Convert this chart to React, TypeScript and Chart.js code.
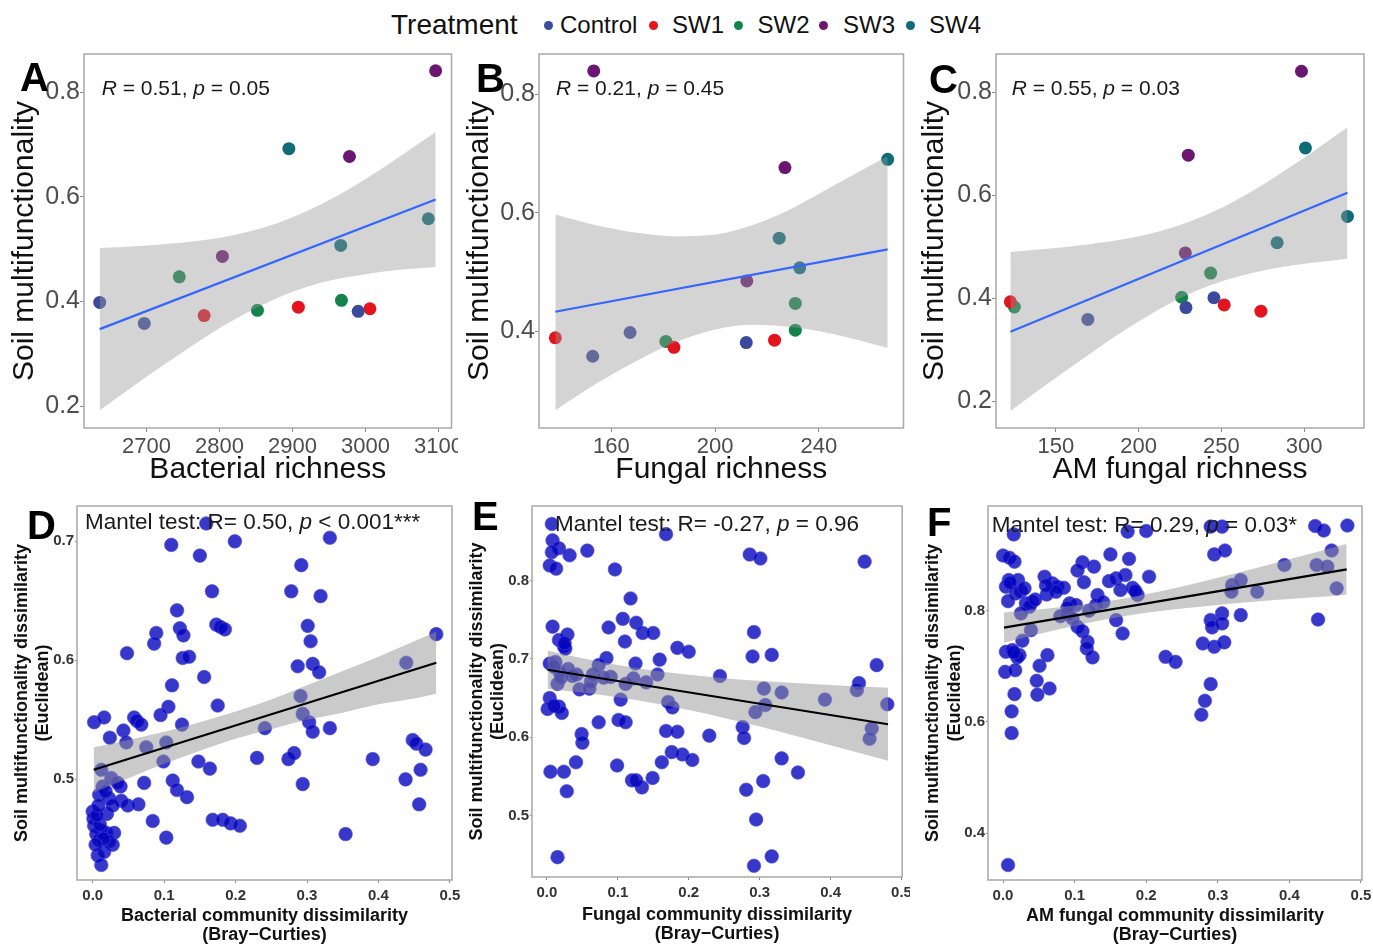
import React, { useEffect, useRef } from "react";
import { Chart, registerables } from "chart.js";

Chart.register(...registerables);

const FONT = "'Liberation Sans', Arial, Helvetica, sans-serif";

// ---------- legend ----------
const treatments = ["Control", "SW1", "SW2", "SW3", "SW4"];
const treatmentColors = ["#3B4A9C", "#E3141E", "#13834A", "#6B1772", "#0D6C77"];

// ---------- panel A : bacterial richness ----------
const aTreatment = ["Control", "Control", "SW2", "SW1", "SW3", "SW2", "SW4", "SW1", "SW2", "SW4", "SW3", "Control", "SW1", "SW4", "SW3"];
const aRichness = [2636, 2697, 2745, 2779, 2804, 2852, 2895, 2908, 2967, 2966, 2978, 2990, 3006, 3086, 3096];
const aMultifunc = [0.398, 0.358, 0.447, 0.373, 0.486, 0.383, 0.692, 0.389, 0.402, 0.507, 0.677, 0.381, 0.386, 0.558, 0.841];
const aFitX = [2636, 3096];
const aFitY = [0.347, 0.595];
const aBandX = [2636, 2700, 2760, 2820, 2880, 2940, 3000, 3050, 3096];
const aBandHi = [0.502, 0.507, 0.514, 0.527, 0.55, 0.586, 0.634, 0.68, 0.724];
const aBandLo = [0.192, 0.256, 0.313, 0.365, 0.407, 0.436, 0.452, 0.461, 0.466];
const aXTicks = [2700, 2800, 2900, 3000, 3100];
const aXLabels = ["2700", "2800", "2900", "3000", "3100"];
const aYTicks = [0.2, 0.4, 0.6, 0.8];
const aYLabels = ["0.2", "0.4", "0.6", "0.8"];

// ---------- panel B : fungal richness ----------
const bTreatment = ["SW1", "SW3", "Control", "Control", "SW2", "SW1", "Control", "SW3", "SW1", "SW4", "SW3", "SW2", "SW2", "SW4", "SW4"];
const bRichness = [138.4, 153.2, 152.8, 167.2, 181, 184.1, 212, 212.2, 222.9, 224.7, 226.9, 230.9, 230.9, 232.6, 266.5];
const bMultifunc = [0.389, 0.839, 0.358, 0.398, 0.383, 0.373, 0.381, 0.485, 0.385, 0.557, 0.676, 0.447, 0.402, 0.507, 0.69];
const bFitX = [138.4, 266.5];
const bFitY = [0.433, 0.538];
const bBandX = [138.4, 155, 170, 185, 200, 215, 230, 245, 266.5];
const bBandHi = [0.597, 0.578, 0.566, 0.56, 0.563, 0.58, 0.608, 0.644, 0.695];
const bBandLo = [0.267, 0.314, 0.351, 0.382, 0.403, 0.411, 0.407, 0.396, 0.372];
const bXTicks = [160, 200, 240];
const bXLabels = ["160", "200", "240"];
const bYTicks = [0.4, 0.6, 0.8];
const bYLabels = ["0.4", "0.6", "0.8"];

// ---------- panel C : AM fungal richness ----------
const cTreatment = ["SW1", "SW2", "Control", "SW2", "Control", "SW3", "SW3", "SW2", "Control", "SW1", "SW1", "SW4", "SW3", "SW4", "SW4"];
const cRichness = [122.5, 124.9, 169.3, 226, 228.6, 228.2, 230, 243.5, 245.5, 251.7, 273.9, 283.7, 298.4, 300.8, 326.2];
const cMultifunc = [0.393, 0.383, 0.359, 0.402, 0.382, 0.488, 0.678, 0.449, 0.401, 0.387, 0.375, 0.508, 0.841, 0.692, 0.559];
const cFitX = [122.5, 326.2];
const cFitY = [0.335, 0.605];
const cBandX = [122.5, 145, 170, 195, 220, 245, 270, 300, 326.2];
const cBandHi = [0.49, 0.496, 0.505, 0.517, 0.537, 0.568, 0.611, 0.673, 0.732];
const cBandLo = [0.181, 0.234, 0.291, 0.345, 0.392, 0.427, 0.45, 0.467, 0.477];
const cXTicks = [150, 200, 250, 300];
const cXLabels = ["150", "200", "250", "300"];
const cYTicks = [0.2, 0.4, 0.6, 0.8];
const cYLabels = ["0.2", "0.4", "0.6", "0.8"];

const upperR = ["0.51", "0.21", "0.55"];
const upperP = ["0.05", "0.45", "0.03"];

// ---------- panel D : bacterial dissimilarity ----------
const dPoints = [
  [0.159, 0.715], [0.11, 0.697], [0.15, 0.688], [0.199, 0.7], [0.167, 0.658], [0.118, 0.642], [0.122, 0.627], [0.127, 0.621],
  [0.089, 0.623], [0.086, 0.614], [0.173, 0.63], [0.179, 0.628], [0.185, 0.626], [0.048, 0.606], [0.126, 0.602], [0.135, 0.603],
  [0.156, 0.586], [0.111, 0.579], [0.106, 0.561], [0.175, 0.562], [0.002, 0.548], [0.016, 0.552], [0.058, 0.552], [0.062, 0.549],
  [0.068, 0.546], [0.095, 0.554], [0.125, 0.546], [0.024, 0.535], [0.043, 0.541], [0.047, 0.531], [0.075, 0.527], [0.103, 0.531],
  [0.099, 0.515], [0.148, 0.515], [0.164, 0.509], [0.23, 0.518], [0.241, 0.543], [0.012, 0.508], [0.026, 0.501], [0.014, 0.494],
  [0.039, 0.494], [0.072, 0.497], [0.112, 0.499], [0.118, 0.491], [0.132, 0.485], [0.009, 0.487], [0.023, 0.484], [0.04, 0.482],
  [0.049, 0.478], [0.064, 0.479], [0.0, 0.473], [0.02, 0.471], [0.084, 0.465], [0.168, 0.466], [0.182, 0.466], [0.193, 0.463],
  [0.206, 0.461], [0.002, 0.461], [0.012, 0.457], [0.005, 0.454], [0.019, 0.455], [0.03, 0.455], [0.009, 0.449], [0.023, 0.448],
  [0.028, 0.445], [0.103, 0.451], [0.007, 0.436], [0.012, 0.428], [0.001, 0.467], [0.016, 0.439], [0.01, 0.462], [0.015, 0.45],
  [0.004, 0.445], [0.018, 0.49], [0.028, 0.478], [0.035, 0.497], [0.006, 0.47], [0.008, 0.478],
  [0.332, 0.703], [0.292, 0.68], [0.278, 0.658], [0.319, 0.654], [0.301, 0.629], [0.305, 0.616], [0.287, 0.595], [0.308, 0.597],
  [0.317, 0.59], [0.291, 0.57], [0.294, 0.555], [0.303, 0.548], [0.308, 0.54], [0.332, 0.543], [0.274, 0.517], [0.282, 0.522],
  [0.294, 0.496], [0.354, 0.454], [0.392, 0.517], [0.439, 0.598], [0.481, 0.622], [0.448, 0.533], [0.453, 0.53], [0.466, 0.525],
  [0.459, 0.508], [0.438, 0.5], [0.457, 0.479],
];
const dFitX = [0.0014, 0.481];
const dFitY = [0.508, 0.598];
const dBandX = [0.0014, 0.05, 0.1, 0.15, 0.2, 0.25, 0.3, 0.35, 0.4, 0.45, 0.481];
const dBandHi = [0.527, 0.533, 0.54, 0.548, 0.557, 0.567, 0.579, 0.591, 0.603, 0.616, 0.624];
const dBandLo = [0.489, 0.501, 0.513, 0.524, 0.534, 0.542, 0.55, 0.556, 0.563, 0.568, 0.572];
const dYTicks = [0.5, 0.6, 0.7];
const dYLabels = ["0.5", "0.6", "0.7"];

// ---------- panel E : fungal dissimilarity ----------
const ePoints = [
  [0.007, 0.872], [0.008, 0.851], [0.017, 0.841], [0.007, 0.836], [0.032, 0.832], [0.057, 0.838], [0.004, 0.819], [0.013, 0.815],
  [0.096, 0.814], [0.168, 0.859], [0.118, 0.777], [0.008, 0.741], [0.029, 0.731], [0.017, 0.724], [0.024, 0.716], [0.026, 0.713],
  [0.087, 0.74], [0.107, 0.751], [0.126, 0.746], [0.135, 0.733], [0.15, 0.733], [0.11, 0.722], [0.184, 0.714], [0.2, 0.709],
  [0.004, 0.694], [0.012, 0.696], [0.018, 0.683], [0.015, 0.668], [0.084, 0.701], [0.125, 0.694], [0.159, 0.699], [0.042, 0.68],
  [0.073, 0.692], [0.09, 0.677], [0.062, 0.671], [0.046, 0.661], [0.06, 0.662], [0.111, 0.668], [0.122, 0.675], [0.156, 0.68],
  [0.244, 0.678], [0.004, 0.65], [0.001, 0.636], [0.017, 0.639], [0.021, 0.631], [0.104, 0.648], [0.171, 0.645], [0.177, 0.638],
  [0.073, 0.619], [0.101, 0.622], [0.111, 0.619], [0.168, 0.608], [0.184, 0.607], [0.229, 0.602], [0.049, 0.604], [0.05, 0.593],
  [0.005, 0.556], [0.024, 0.556], [0.041, 0.568], [0.028, 0.531], [0.099, 0.564], [0.12, 0.545], [0.134, 0.536], [0.126, 0.545],
  [0.149, 0.548], [0.162, 0.568], [0.176, 0.581], [0.191, 0.578], [0.205, 0.571], [0.015, 0.447],
  [0.01, 0.69], [0.02, 0.676], [0.03, 0.687], [0.036, 0.678], [0.065, 0.68], [0.08, 0.676], [0.14, 0.67], [0.025, 0.72], [0.01, 0.64],
  [0.286, 0.833], [0.301, 0.828], [0.448, 0.824], [0.292, 0.734], [0.29, 0.703], [0.317, 0.705], [0.465, 0.692], [0.44, 0.669],
  [0.437, 0.66], [0.306, 0.662], [0.331, 0.657], [0.392, 0.648], [0.48, 0.642], [0.308, 0.641], [0.294, 0.632], [0.276, 0.613],
  [0.278, 0.599], [0.458, 0.611], [0.455, 0.598], [0.331, 0.573], [0.354, 0.555], [0.305, 0.544], [0.281, 0.533], [0.295, 0.495],
  [0.317, 0.448], [0.292, 0.436],
];
const eFitX = [0.001, 0.481];
const eFitY = [0.686, 0.6165];
const eBandX = [0.001, 0.05, 0.1, 0.15, 0.2, 0.25, 0.3, 0.35, 0.4, 0.45, 0.481];
const eBandHi = [0.7105, 0.7006, 0.6921, 0.685, 0.6796, 0.6753, 0.6719, 0.669, 0.6665, 0.6643, 0.663];
const eBandLo = [0.6615, 0.657, 0.6511, 0.6436, 0.6346, 0.6245, 0.6135, 0.6018, 0.5899, 0.5777, 0.57];
const eYTicks = [0.5, 0.6, 0.7, 0.8];
const eYLabels = ["0.5", "0.6", "0.7", "0.8"];

// ---------- panel F : AM fungal dissimilarity ----------
const fPoints = [
  [0.015, 0.937], [0.0, 0.899], [0.009, 0.895], [0.016, 0.888], [0.008, 0.855], [0.021, 0.855], [0.004, 0.843], [0.025, 0.835],
  [0.018, 0.831], [0.007, 0.817], [0.032, 0.813], [0.041, 0.816], [0.037, 0.807], [0.025, 0.795], [0.039, 0.765], [0.027, 0.746],
  [0.058, 0.861], [0.069, 0.849], [0.076, 0.843], [0.085, 0.841], [0.061, 0.829], [0.074, 0.834], [0.111, 0.887], [0.104, 0.872],
  [0.127, 0.879], [0.113, 0.851], [0.15, 0.901], [0.176, 0.893], [0.171, 0.864], [0.148, 0.853], [0.158, 0.858], [0.164, 0.837],
  [0.181, 0.841], [0.188, 0.828], [0.204, 0.861], [0.174, 0.942], [0.2, 0.943], [0.132, 0.828], [0.093, 0.813], [0.102, 0.81],
  [0.091, 0.795], [0.097, 0.786], [0.104, 0.771], [0.111, 0.763], [0.13, 0.81], [0.158, 0.783], [0.167, 0.759], [0.118, 0.744],
  [0.117, 0.732], [0.125, 0.716], [0.004, 0.726], [0.013, 0.729], [0.023, 0.72], [0.02, 0.716], [0.003, 0.69], [0.017, 0.693],
  [0.062, 0.72], [0.051, 0.701], [0.047, 0.674], [0.065, 0.66], [0.048, 0.649], [0.016, 0.65], [0.012, 0.619], [0.012, 0.58],
  [0.007, 0.343], [0.227, 0.717], [0.241, 0.708],
  [0.01, 0.85], [0.03, 0.84], [0.045, 0.82], [0.08, 0.79], [0.09, 0.805], [0.12, 0.8], [0.14, 0.815], [0.185, 0.835], [0.06, 0.845], [0.015, 0.725],
  [0.29, 0.951], [0.306, 0.951], [0.295, 0.901], [0.31, 0.908], [0.436, 0.952], [0.448, 0.944], [0.481, 0.953], [0.459, 0.908],
  [0.393, 0.882], [0.438, 0.882], [0.453, 0.879], [0.466, 0.84], [0.32, 0.846], [0.332, 0.855], [0.319, 0.834], [0.355, 0.834],
  [0.332, 0.792], [0.44, 0.784], [0.29, 0.783], [0.306, 0.795], [0.292, 0.77], [0.306, 0.777], [0.279, 0.741], [0.295, 0.735],
  [0.309, 0.743], [0.29, 0.668], [0.282, 0.638], [0.277, 0.613],
];
const fFitX = [0.0014, 0.48];
const fFitY = [0.7695, 0.874];
const fBandX = [0.0014, 0.05, 0.1, 0.15, 0.2, 0.25, 0.3, 0.35, 0.4, 0.45, 0.48];
const fBandHi = [0.7965, 0.8021, 0.809, 0.8179, 0.8295, 0.8435, 0.859, 0.8754, 0.8922, 0.9092, 0.9195];
const fBandLo = [0.7425, 0.7581, 0.773, 0.7859, 0.7961, 0.8039, 0.8102, 0.8158, 0.8208, 0.8256, 0.8285];
const fYTicks = [0.4, 0.6, 0.8];
const fYLabels = ["0.4", "0.6", "0.8"];

const lowerXTicks = [0, 0.1, 0.2, 0.3, 0.4, 0.5];
const lowerXLabels = ["0.0", "0.1", "0.2", "0.3", "0.4", "0.5"];

const mantelR = ["0.50", "-0.27", "0.29"];
const mantelP = ["< 0.001***", "= 0.96", "= 0.03*"];

// ---------- helpers ----------
const UPPER_BAND = "rgba(153,153,153,0.42)";
const LOWER_BAND = "rgba(150,150,150,0.5)";

const boxPlugin = {
  id: "panelBox",
  afterDatasetsDraw(chart: any, _args: any, opts: any) {
    const { ctx, chartArea: a } = chart;
    ctx.save();
    ctx.strokeStyle = opts.color || "#a6a6a6";
    ctx.lineWidth = opts.width || 1.5;
    ctx.strokeRect(a.left, a.top, a.right - a.left, a.bottom - a.top);
    ctx.restore();
  },
};

function bandAndFit(bx: number[], hi: number[], lo: number[], fx: number[], fy: number[], bandColor: string, lineColor: string) {
  return [
    {
      type: "line",
      data: bx.map((x, i) => ({ x, y: hi[i] })),
      borderWidth: 0,
      borderColor: "rgba(0,0,0,0)",
      backgroundColor: bandColor,
      pointRadius: 0,
      fill: "+1",
      cubicInterpolationMode: "monotone",
      order: 2,
    },
    {
      type: "line",
      data: bx.map((x, i) => ({ x, y: lo[i] })),
      borderWidth: 0,
      borderColor: "rgba(0,0,0,0)",
      pointRadius: 0,
      fill: false,
      cubicInterpolationMode: "monotone",
      order: 2,
    },
    {
      type: "line",
      data: fx.map((x, i) => ({ x, y: fy[i] })),
      borderColor: lineColor,
      borderWidth: 2.2,
      pointRadius: 0,
      fill: false,
      order: 1,
    },
  ];
}

function upperDatasets(treat: string[], xs: number[], ys: number[], bx: number[], hi: number[], lo: number[], fx: number[], fy: number[]) {
  const pts: any[] = treatments.map((t, k) => ({
    type: "scatter",
    label: t,
    data: xs.map((x, i) => ({ x, y: ys[i], t: treat[i] })).filter((p) => p.t === t).map((p) => ({ x: p.x, y: p.y })),
    backgroundColor: treatmentColors[k],
    borderColor: treatmentColors[k],
    borderWidth: 0,
    pointRadius: 6.5,
    pointHoverRadius: 6.5,
    order: 3,
    clip: false,
  }));
  return pts.concat(bandAndFit(bx, hi, lo, fx, fy, UPPER_BAND, "#3366FF"));
}

function lowerDatasets(points: number[][], bx: number[], hi: number[], lo: number[], fx: number[], fy: number[]) {
  const pts: any[] = [
    {
      type: "scatter",
      data: points.map((p) => ({ x: p[0], y: p[1] })),
      backgroundColor: "rgba(5,5,188,0.8)",
      borderColor: "rgba(70,70,230,0.6)",
      borderWidth: 1,
      pointRadius: 6.8,
      pointHoverRadius: 6.8,
      order: 3,
      clip: false,
    },
  ];
  return pts.concat(bandAndFit(bx, hi, lo, fx, fy, LOWER_BAND, "#000000"));
}

type Spec = {
  canvas: { left: number; top: number; width: number; height: number };
  area: { l: number; t: number; r: number; b: number };
  xMin: number; xMax: number; yMin: number; yMax: number;
  xTicks: number[]; xLabels: string[]; yTicks: number[]; yLabels: string[];
  xTitle: string | string[]; yTitle: string | string[];
  yTitlePad: number; xTitlePad: number;
  upper: boolean;
  datasets: any[];
};

function buildConfig(s: Spec): any {
  const yW = s.area.l - s.canvas.left;
  const xH = s.canvas.top + s.canvas.height - s.area.b;
  const up = s.upper;
  const tickFontX = up ? { family: FONT, size: 22 } : { family: FONT, size: 15, weight: "bold" };
  const tickFontY = up ? { family: FONT, size: 25 } : { family: FONT, size: 15, weight: "bold" };
  const yTitleFont = up ? { family: FONT, size: 30, lineHeight: 1.2 } : { family: FONT, size: 18, weight: "bold", lineHeight: 1.2 };
  const xTitleFont = up ? { family: FONT, size: 30, lineHeight: 1.2 } : { family: FONT, size: 18, weight: "bold", lineHeight: 1.02 };
  return {
    type: "scatter",
    data: { datasets: s.datasets },
    options: {
      animation: false,
      responsive: false,
      maintainAspectRatio: false,
      devicePixelRatio: 1,
      events: [],
      layout: {
        padding: { top: s.area.t - s.canvas.top, right: s.canvas.left + s.canvas.width - s.area.r, left: 0, bottom: 0 },
      },
      plugins: {
        legend: { display: false },
        tooltip: { enabled: false },
        panelBox: { color: "#a8a8a8", width: 1.5 },
      },
      scales: {
        x: {
          type: "linear",
          position: "bottom",
          min: s.xMin,
          max: s.xMax,
          afterBuildTicks: (ax: any) => {
            ax.ticks = s.xTicks.map((v) => ({ value: v }));
          },
          afterFit: (ax: any) => {
            ax.height = xH;
            ax.paddingLeft = 0;
            ax.paddingRight = 0;
          },
          ticks: {
            autoSkip: false,
            maxRotation: 0,
            minRotation: 0,
            padding: up ? 2 : 4,
            color: up ? "#4d4d4d" : "#333333",
            font: tickFontX,
            callback: (_v: any, i: number) => s.xLabels[i],
          },
          grid: { drawOnChartArea: false, drawTicks: true, tickLength: up ? 4 : 3, color: "#8a8a8a", lineWidth: 1 },
          border: { display: false },
          title: { display: true, text: s.xTitle, color: "#111111", font: xTitleFont, padding: { top: 0, bottom: s.xTitlePad } },
        },
        y: {
          type: "linear",
          position: "left",
          min: s.yMin,
          max: s.yMax,
          afterBuildTicks: (ax: any) => {
            ax.ticks = s.yTicks.map((v) => ({ value: v }));
          },
          afterFit: (ax: any) => {
            ax.width = yW;
            ax.paddingTop = 0;
            ax.paddingBottom = 0;
          },
          ticks: {
            autoSkip: false,
            padding: up ? 0 : 1,
            color: up ? "#4d4d4d" : "#333333",
            font: tickFontY,
            callback: (_v: any, i: number) => s.yLabels[i],
          },
          grid: { drawOnChartArea: false, drawTicks: true, tickLength: up ? 4 : 2, color: "#8a8a8a", lineWidth: 1 },
          border: { display: false },
          title: { display: true, text: s.yTitle, color: "#111111", font: yTitleFont, padding: { top: s.yTitlePad, bottom: 0 } },
        },
      },
    },
    plugins: [boxPlugin],
  };
}

const specs: Spec[] = [
  {
    canvas: { left: 0, top: 44, width: 458, height: 451 },
    area: { l: 84, t: 54, r: 453, b: 428 },
    xMin: 2614.5, xMax: 3117.7, yMin: 0.158, yMax: 0.873,
    xTicks: aXTicks, xLabels: aXLabels, yTicks: aYTicks, yLabels: aYLabels,
    xTitle: "Bacterial richness", yTitle: "Soil multifunctionality",
    yTitlePad: 7, xTitlePad: 7, upper: true,
    datasets: upperDatasets(aTreatment, aRichness, aMultifunc, aBandX, aBandHi, aBandLo, aFitX, aFitY),
  },
  {
    canvas: { left: 460, top: 44, width: 450, height: 451 },
    area: { l: 539, t: 54, r: 908, b: 428 },
    xMin: 132.1, xMax: 272.6, yMin: 0.237, yMax: 0.8675,
    xTicks: bXTicks, xLabels: bXLabels, yTicks: bYTicks, yLabels: bYLabels,
    xTitle: "Fungal richness", yTitle: "Soil multifunctionality",
    yTitlePad: 2, xTitlePad: 7, upper: true,
    datasets: upperDatasets(bTreatment, bRichness, bMultifunc, bBandX, bBandHi, bBandLo, bFitX, bFitY),
  },
  {
    canvas: { left: 910, top: 44, width: 463, height: 451 },
    area: { l: 996, t: 54, r: 1364, b: 428 },
    xMin: 113.8, xMax: 336.2, yMin: 0.148, yMax: 0.8745,
    xTicks: cXTicks, xLabels: cXLabels, yTicks: cYTicks, yLabels: cYLabels,
    xTitle: "AM fungal richness", yTitle: "Soil multifunctionality",
    yTitlePad: 7, xTitlePad: 7, upper: true,
    datasets: upperDatasets(cTreatment, cRichness, cMultifunc, cBandX, cBandHi, cBandLo, cFitX, cFitY),
  },
  {
    canvas: { left: 0, top: 495, width: 460, height: 449 },
    area: { l: 77, t: 506, r: 452, b: 880 },
    xMin: -0.022, xMax: 0.503, yMin: 0.4154, yMax: 0.7297,
    xTicks: lowerXTicks, xLabels: lowerXLabels, yTicks: dYTicks, yLabels: dYLabels,
    xTitle: ["Bacterial community dissimilarity", "(Bray\u2212Curties)"],
    yTitle: ["Soil multifunctionality dissimilarity", "(Euclidean)"],
    yTitlePad: 11, xTitlePad: 0, upper: false,
    datasets: lowerDatasets(dPoints, dBandX, dBandHi, dBandLo, dFitX, dFitY),
  },
  {
    canvas: { left: 460, top: 495, width: 450, height: 449 },
    area: { l: 532, t: 506, r: 907, b: 877 },
    xMin: -0.021, xMax: 0.501, yMin: 0.4217, yMax: 0.8949,
    xTicks: lowerXTicks, xLabels: lowerXLabels, yTicks: eYTicks, yLabels: eYLabels,
    xTitle: ["Fungal community dissimilarity", "(Bray\u2212Curties)"],
    yTitle: ["Soil multifunctionality dissimilarity", "(Euclidean)"],
    yTitlePad: 6, xTitlePad: 1, upper: false,
    datasets: lowerDatasets(ePoints, eBandX, eBandHi, eBandLo, eFitX, eFitY),
  },
  {
    canvas: { left: 910, top: 495, width: 463, height: 449 },
    area: { l: 988, t: 506, r: 1362, b: 880 },
    xMin: -0.021, xMax: 0.5014, yMin: 0.316, yMax: 0.988,
    xTicks: lowerXTicks, xLabels: lowerXLabels, yTicks: fYTicks, yLabels: fYLabels,
    xTitle: ["AM fungal community dissimilarity", "(Bray\u2212Curties)"],
    yTitle: ["Soil multifunctionality dissimilarity", "(Euclidean)"],
    yTitlePad: 12.5, xTitlePad: 0, upper: false,
    datasets: lowerDatasets(fPoints, fBandX, fBandHi, fBandLo, fFitX, fFitY),
  },
];

function Panel({ spec }: { spec: Spec }) {
  const ref = useRef<HTMLCanvasElement | null>(null);
  useEffect(() => {
    if (!ref.current) return;
    const chart = new Chart(ref.current, buildConfig(spec));
    return () => chart.destroy();
  }, [spec]);
  const c = spec.canvas;
  return (
    <canvas
      ref={ref}
      width={c.width}
      height={c.height}
      style={{ position: "absolute", left: c.left, top: c.top, width: c.width, height: c.height }}
    />
  );
}

const letters = ["A", "B", "C", "D", "E", "F"];
const letterPos = [
  [20, 57], [476, 58], [929, 59], [27, 505], [472, 496], [927, 502],
];
const upperAnnotPos = [[101.7, 77.4], [556, 77.4], [1011.7, 77.4]];
const lowerAnnotPos = [[85, 511], [555, 513], [991.7, 514]];
const legendDotX = [548, 653, 738, 823.5, 910];
const legendTextX = [560, 672, 757.5, 843, 929];

export default function App() {
  return (
    <div
      style={{
        position: "absolute",
        left: 0,
        top: 0,
        width: 1373,
        height: 944,
        background: "#ffffff",
        overflow: "hidden",
        fontFamily: FONT,
      }}
    >
      {specs.map((s, i) => (
        <Panel key={i} spec={s} />
      ))}

      {/* legend */}
      <div style={{ position: "absolute", left: 391, top: 9, fontSize: 28, lineHeight: "32px", color: "#111", whiteSpace: "nowrap" }}>
        Treatment
      </div>
      {treatments.map((t, k) => (
        <React.Fragment key={t}>
          <div
            style={{
              position: "absolute",
              left: legendDotX[k] - 4.5,
              top: 25 - 4.5,
              width: 9,
              height: 9,
              borderRadius: "50%",
              background: treatmentColors[k],
            }}
          />
          <div style={{ position: "absolute", left: legendTextX[k], top: 11, fontSize: 24, lineHeight: "28px", color: "#111", whiteSpace: "nowrap" }}>
            {t}
          </div>
        </React.Fragment>
      ))}

      {/* upper annotations */}
      {upperAnnotPos.map((p, k) => (
        <div
          key={"ua" + k}
          style={{ position: "absolute", left: p[0], top: p[1], fontSize: 21, lineHeight: 1, color: "#1a1a1a", whiteSpace: "nowrap" }}
        >
          <i>R</i> = {upperR[k]}, <i>p</i> = {upperP[k]}
        </div>
      ))}

      {/* lower annotations */}
      {lowerAnnotPos.map((p, k) => (
        <div
          key={"la" + k}
          style={{ position: "absolute", left: p[0], top: p[1], fontSize: 22.5, lineHeight: 1, color: "#1a1a1a", whiteSpace: "nowrap" }}
        >
          Mantel test: R= {mantelR[k]}, <i>p</i> {mantelP[k]}
        </div>
      ))}

      {/* panel letters */}
      {letters.map((l, k) => (
        <div
          key={l}
          style={{
            position: "absolute",
            left: letterPos[k][0],
            top: letterPos[k][1],
            fontSize: 40,
            fontWeight: "bold",
            lineHeight: 1,
            color: "#000",
          }}
        >
          {l}
        </div>
      ))}
    </div>
  );
}
